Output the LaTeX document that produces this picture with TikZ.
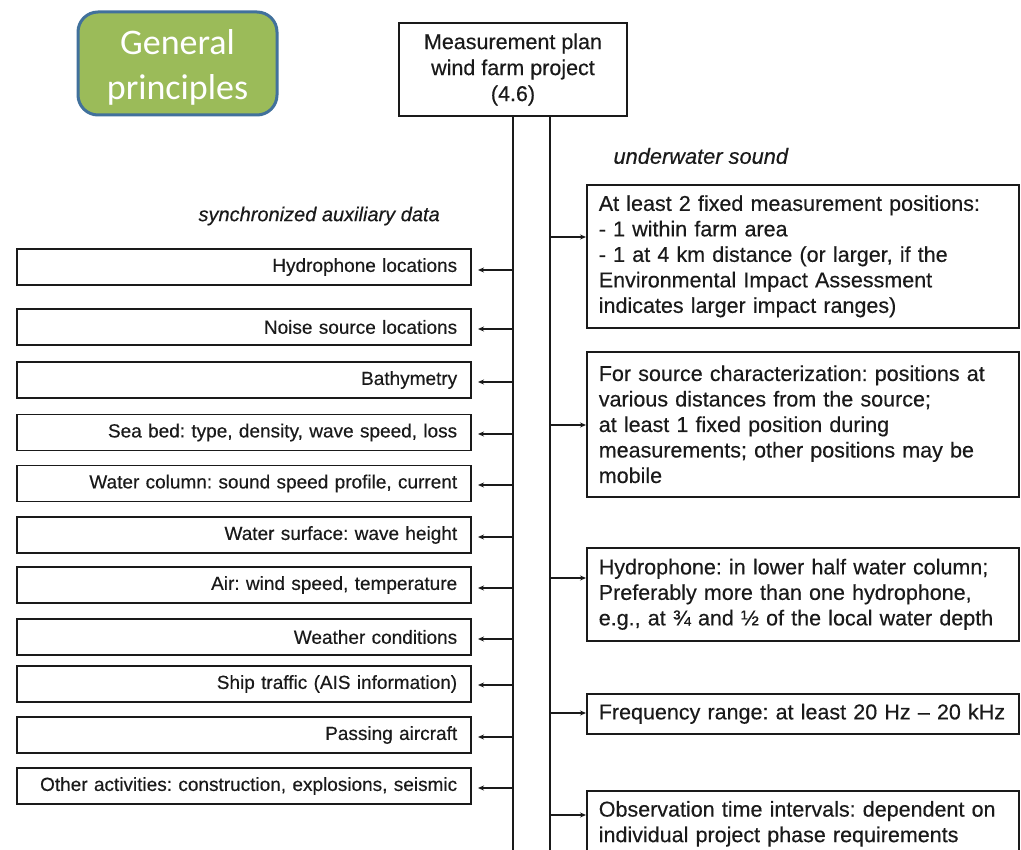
\documentclass[tikz,border=0pt]{standalone}
\usepackage{fontspec}
\setmainfont{Liberation Sans}[FakeBold=0.35]
\newfontfamily\calib{Carlito}
\usetikzlibrary{arrows.meta}
\definecolor{gpfill}{HTML}{9BBB59}
\definecolor{gpdraw}{HTML}{41719C}
\definecolor{ink}{HTML}{1A1A1A}
\frenchspacing
\tikzset{
  lbox/.style={draw=ink, line width=1.6pt, text width=426pt, inner xsep=14pt, inner ysep=0pt,
    minimum height=36pt, align=right, anchor=east, text=ink, font=\fontsize{19}{22}\selectfont},
  rbox/.style={draw=ink, line width=1.6pt, text width=408pt, inner xsep=12pt, inner ysep=0pt,
    align=left, anchor=north west, text=ink, font=\fontsize{21.5}{25.5}\selectfont},
  conn/.style={draw=ink, line width=1.8pt},
  arr/.style={draw=ink, line width=1.8pt, -{Stealth[length=6pt,width=5pt]}},
  lbl/.style={anchor=west, text=ink, font=\fontsize{20}{24}\selectfont\itshape}
}
\begin{document}
\begin{tikzpicture}[x=1pt,y=-1pt]
\clip (0,0) rectangle (1021,850);
\fill[white] (0,0) rectangle (1021,850);

% general principles
\node[draw=gpdraw, line width=3pt, fill=gpfill, rounded corners=20pt,
  minimum width=199pt, minimum height=103pt, inner sep=0pt] (gp) at (177.5,63.5) {};
\node[align=center, inner sep=0pt, text=white, font=\calib\fontsize{36}{45}\selectfont]
  (gpt) at (177.5,67.5) {General\\principles};

% top box
\node[draw=ink, line width=1.6pt, minimum width=228pt, minimum height=93pt, inner sep=0pt,
  align=center, text=ink, font=\fontsize{21.5}{26}\selectfont] (plan) at (513,69.5)
  {Measurement plan\\wind farm project\\(4.6)};

% trunks
\coordinate (lt) at (513,116);
\coordinate (lb) at (513,850);
\coordinate (rt) at (550,116);
\coordinate (rb) at (550,850);
\draw[conn] (lt) -- (lb);
\draw[conn] (rt) -- (rb);

% labels
\node[lbl, font=\fontsize{21.8}{24}\selectfont\itshape] (uws) at (610,156) {underwater sound};
\node[lbl] (sad) at (195,216) {synchronized auxiliary data};

% left boxes
\node[lbox] (l1) at (472,267) {Hydrophone locations};
\node[lbox] (l2) at (472,327) {Noise source locations};
\node[lbox] (l3) at (472,380) {Bathymetry};
\node[lbox] (l4) at (472,432.5) {Sea bed: type, density, wave speed, loss};
\node[lbox] (l5) at (472,483.5) {Water column: sound speed profile, current};
\node[lbox] (l6) at (472,535) {Water surface: wave height};
\node[lbox] (l7) at (472,585) {Air: wind speed, temperature};
\node[lbox] (l8) at (472,637) {Weather conditions};
\node[lbox] (l9) at (472,684) {Ship traffic (AIS information)};
\node[lbox] (l10) at (472,735) {Passing aircraft};
\node[lbox] (l11) at (472,786) {Other activities: construction, explosions, seismic};

\foreach \n/\y in {1/270,2/329,3/382,4/434,5/485,6/537,7/588,8/639,9/685,10/737,11/788}{
  \coordinate (la\n) at (513,\y);
  \draw[arr, shorten >=6pt] (la\n) -- (la\n -| l\n.east);
}

% right boxes
\node[rbox, minimum height=143pt] (r1) at (586,184) {At least 2 fixed measurement positions:\\- 1 within farm area\\- 1 at 4 km distance (or larger, if the\\Environmental Impact Assessment\\indicates larger impact ranges)};
\node[rbox, minimum height=145pt] (r2) at (586,351) {For source characterization: positions at\\various distances from the source;\\at least 1 fixed position during\\measurements; other positions may be\\mobile};
\node[rbox, minimum height=93pt] (r3) at (586,547) {Hydrophone: in lower half water column;\\Preferably more than one hydrophone,\\e.g., at ¾ and ½ of the local water depth};
\node[rbox, minimum height=40pt] (r4) at (586,693) {Frequency range: at least 20 Hz – 20 kHz};
\node[rbox, minimum height=66pt] (r5) at (586,790) {Observation time intervals: dependent on\\individual project phase requirements};

\foreach \n/\y in {1/237,2/425,3/578,4/713,5/815}{
  \coordinate (ra\n) at (550,\y);
  \draw[arr] (ra\n) -- (ra\n -| r\n.west);
}
\end{tikzpicture}
\end{document}
